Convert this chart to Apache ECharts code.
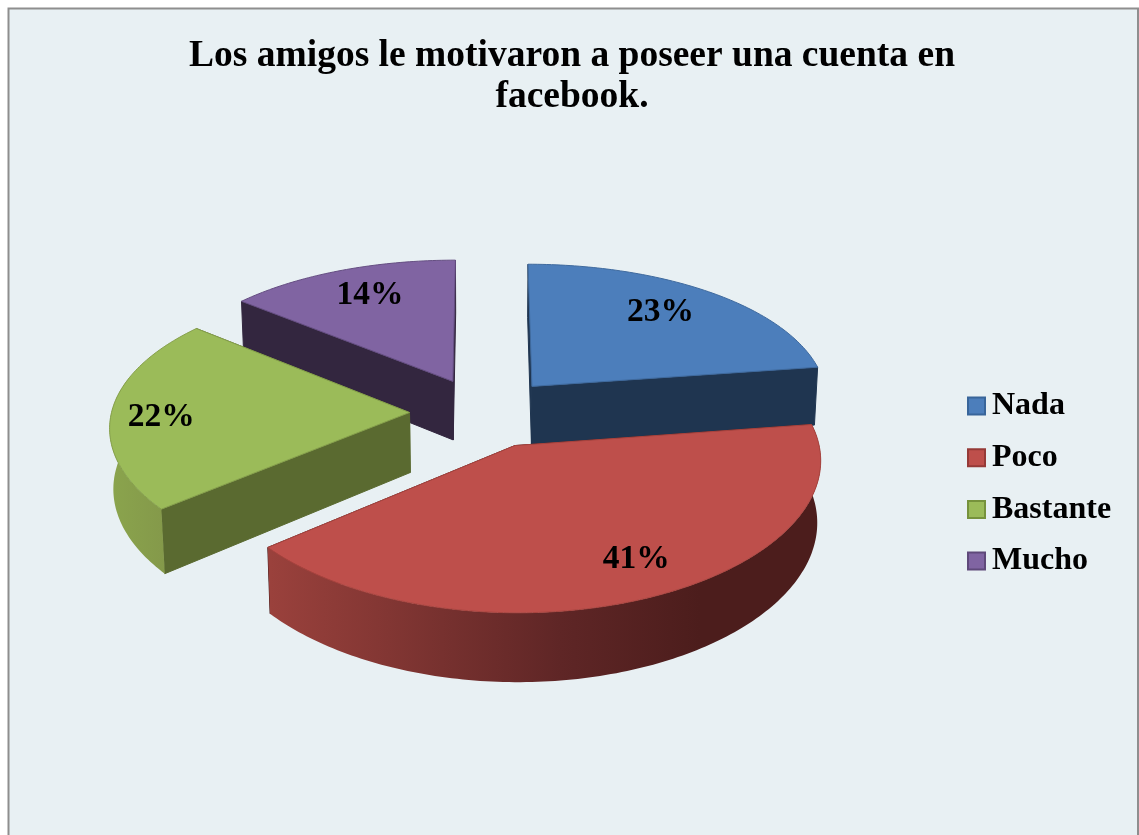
<!DOCTYPE html>
<html>
<head>
<meta charset="utf-8">
<title>Facebook</title>
<script src="https://cdn.jsdelivr.net/npm/echarts@6/dist/echarts.min.js"></script>
<style>
  html, body { margin: 0; padding: 0; background: #fff; overflow: hidden; }
  #chart { width: 1139px; height: 835px; }
</style>
</head>
<body>
<div id="chart"></div>
<script>
var titleText = 'Los amigos le motivaron a poseer una cuenta en\nfacebook.'
var categories = ['Nada', 'Poco', 'Bastante', 'Mucho']
// labels are rounded, the slice angles read a little finer than that
var values = [22.7, 41.3, 22, 14]

// colours per slice
var topColors = ['#4c7ebb', '#be4f4b', '#9bbb59', '#8064a2']
var edgeColors = ['#3f6a9e', '#a8443f', '#86a04c', '#654e82']
var wallColors = ['#1f3550', '#4c1d1c', '#5a6a30', '#33263f']
var legendBorders = ['#38659a', '#953a37', '#76923c', '#5f497a']
var arcStops = [
  null,
  [[270, '#9a413c'], [560, '#5f2626'], [700, '#4c1d1c'], [825, '#4c1d1c']],
  [[105, '#8ba54d'], [165, '#84994a']],
  null
]
// label spot: radii along the bisector, and degrees off it
var labelRadius = [0.75, 0.796, 0.83, 0.75]
var labelTurn = [-2.1, -3.5, -2.4, 1]
// painting order, far slices first
var drawOrder = [3, 0, 2, 1]

// fake 3D camera
var cam = { cx: 484, cy: 412.5, kx: 298, ky: 141, depth: 60, px: 0.09, py: 0.11, q: 0.01, explode: 0.25 }
var total = values.reduce(function (a, b) { return a + b }, 0)

function project (u, v, d) {
  var sx = 1 / (1 + cam.px * v + cam.q * d)
  var sy = 1 / (1 + cam.py * v)
  return [cam.cx + cam.kx * u * sx, cam.cy - (cam.ky * v - cam.depth * d) * sy]
}

function toRad (deg) {
  return deg * Math.PI / 180
}

function makeRenderItem (index) {
  var before = values.slice(0, index).reduce(function (a, b) { return a + b }, 0)
  return function (params, api) {
    var value = api.value(0)
    var start = before / total * 360
    var end = (before + value) / total * 360
    var mid = toRad((start + end) / 2)
    var ou = Math.sin(mid) * cam.explode
    var ov = Math.cos(mid) * cam.explode

    function rim (deg, d) {
      return project(ou + Math.sin(toRad(deg)), ov + Math.cos(toRad(deg)), d)
    }
    function arc (from, to, d) {
      var pts = []
      var n = Math.max(2, Math.ceil(to - from))
      for (var i = 0; i <= n; i++) {
        pts.push(rim(from + (to - from) * i / n, d))
      }
      return pts
    }
    function radialWall (deg) {
      return {
        meanV: Math.cos(toRad(deg)),
        el: {
          type: 'polygon',
          shape: { points: [project(ou, ov, 0), rim(deg, 0), rim(deg, 1), project(ou, ov, 1)] },
          style: { fill: wallColors[index], stroke: wallColors[index], lineWidth: 1 }
        }
      }
    }

    var children = [radialWall(start), radialWall(end)]
      .sort(function (a, b) { return b.meanV - a.meanV })
      .map(function (w) { return w.el })

    // outer wall, a bit past the half facing the viewer, the top face hides the rest
    var stops = arcStops[index]
    var from = Math.max(start, 80)
    var to = Math.min(end, 285)
    if (stops && to > from) {
      var x0 = stops[0][0]
      var x1 = stops[stops.length - 1][0]
      children.push({
        type: 'polygon',
        shape: { points: arc(from, to, 0).concat(arc(from, to, 1).reverse()) },
        style: {
          fill: {
            type: 'linear',
            global: true,
            x: x0,
            y: 0,
            x2: x1,
            y2: 0,
            colorStops: stops.map(function (s) {
              return { offset: (s[0] - x0) / (x1 - x0), color: s[1] }
            })
          }
        }
      })
    }

    children.push({
      type: 'polygon',
      shape: { points: [project(ou, ov, 0)].concat(arc(start, end, 0)) },
      style: { fill: topColors[index], stroke: edgeColors[index], lineWidth: 1 }
    })

    var la = mid + toRad(labelTurn[index])
    var lp = project(ou + Math.sin(la) * labelRadius[index], ov + Math.cos(la) * labelRadius[index], 0)
    children.push({
      type: 'text',
      style: {
        x: lp[0],
        y: lp[1],
        text: Math.round(value / total * 100) + '%',
        fill: '#000',
        font: 'bold 33.5px "Liberation Serif"',
        textAlign: 'center',
        textVerticalAlign: 'middle'
      }
    })
    return { type: 'group', children: children }
  }
}

var myChart = echarts.init(document.getElementById('chart'), null, { renderer: 'canvas' })
var option = {
  animation: false,
  backgroundColor: '#fff',
  title: {
    text: titleText,
    left: 567,
    top: 31,
    textAlign: 'center',
    textStyle: {
      color: '#000',
      fontFamily: 'Liberation Serif',
      fontWeight: 'bold',
      fontSize: 37.5,
      lineHeight: 41
    }
  },
  legend: {
    orient: 'vertical',
    left: 962,
    top: 385,
    icon: 'rect',
    itemWidth: 17,
    itemHeight: 17,
    itemGap: 19.7,
    data: categories.map(function (name, i) {
      return { name: name, itemStyle: { borderColor: legendBorders[i], borderWidth: 2 } }
    }),
    textStyle: {
      color: '#000',
      fontFamily: 'Liberation Serif',
      fontWeight: 'bold',
      fontSize: 32,
      padding: [0, 0, 0, 2]
    }
  },
  graphic: [{
    type: 'rect',
    z: -10,
    silent: true,
    shape: { x: 8.5, y: 8.5, width: 1129.5, height: 900 },
    style: { fill: '#e8f0f3', stroke: '#8e8e8e', lineWidth: 2 }
  }],
  series: categories.map(function (name, i) {
    return {
      name: name,
      type: 'custom',
      coordinateSystem: 'none',
      z: 2 + drawOrder.indexOf(i),
      itemStyle: { color: topColors[i] },
      renderItem: makeRenderItem(i),
      data: [[values[i]]]
    }
  })
}
myChart.setOption(option)
</script>
</body>
</html>
